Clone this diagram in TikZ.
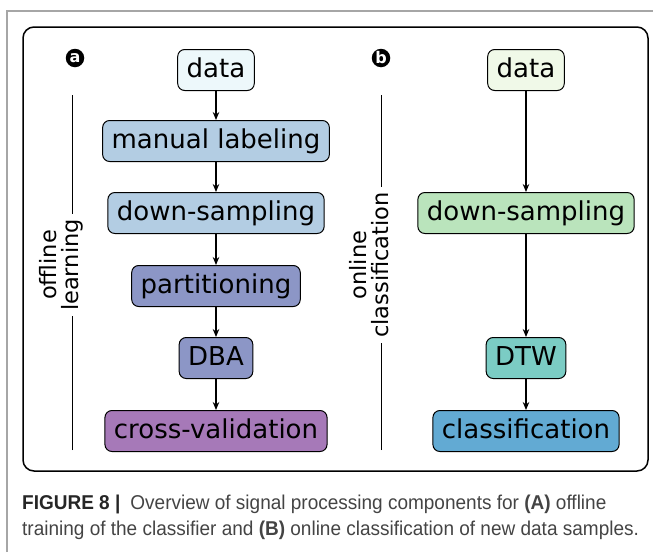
\documentclass[tikz,border=0pt]{standalone}
\usepackage{fontspec}
\setmainfont{DejaVu Sans}
\newfontfamily\capfont[FakeStretch=0.95]{Liberation Sans}
\usetikzlibrary{arrows.meta}
\definecolor{cA0}{HTML}{EDF8FB}
\definecolor{cA1}{HTML}{B3CDE3}
\definecolor{cA2}{HTML}{8C96C6}
\definecolor{cA3}{HTML}{A679B8}
\definecolor{cB0}{HTML}{F0F9E8}
\definecolor{cB1}{HTML}{BAE4BC}
\definecolor{cB2}{HTML}{7BCCC4}
\definecolor{cB3}{HTML}{62AAD3}
\definecolor{capgray}{HTML}{444444}
\begin{document}
\begin{tikzpicture}[x=1pt,y=1pt,
  box/.style={draw=black, line width=1pt, rounded corners=7pt, minimum height=41pt,
    inner xsep=9pt, font=\fontsize{26}{28}\selectfont, text height=19.5pt, text depth=5.5pt},
  arr/.style={-{Stealth[length=8pt,width=6.5pt]}, line width=1.3pt},
  side/.style={rotate=90, align=center, inner sep=5pt, font=\fontsize{22.5}{22}\selectfont},
  badge/.style={circle, fill=black, text=white, inner sep=0pt, minimum size=18.5pt,
    font=\fontsize{16}{16}\selectfont\bfseries},
  vline/.style={line width=1pt},
  captext/.style={anchor=base west, inner sep=0pt, text=capgray, font=\capfont\fontsize{20}{22}\selectfont}]
\useasboundingbox (0,0) rectangle (653,-552);
% outer frame
\draw[line width=1.2pt, gray!70] (7,-552) -- (7,-11) -- (653,-11);
% inner rounded frame
\draw[line width=1.5pt, rounded corners=11pt] (23,-27) rectangle (648,-471);
% left column
\node[box, fill=cA0] (ad) at (216,-70) {data};
\node[box, fill=cA1] (am) at (216,-141) {manual labeling};
\node[box, fill=cA1] (as) at (216,-213) {down-sampling};
\node[box, fill=cA2] (ap) at (216,-286) {partitioning};
\node[box, fill=cA2] (ab) at (216,-358) {DBA};
\node[box, fill=cA3] (ac) at (216,-431) {cross-validation};
\draw[arr] (ad) -- (am);
\draw[arr] (am) -- (as);
\draw[arr] (as) -- (ap);
\draw[arr] (ap) -- (ab);
\draw[arr] (ab) -- (ac);
% right column
\node[box, fill=cB0] (bd) at (526,-70) {data};
\node[box, fill=cB1] (bs) at (526,-213) {down-sampling};
\node[box, fill=cB2] (bt) at (526,-358) {DTW};
\node[box, fill=cB3] (bc) at (526,-431) {classification};
\draw[arr] (bd) -- (bs);
\draw[arr] (bs) -- (bt);
\draw[arr] (bt) -- (bc);
% side labels
\node[badge] (ba) at (75,-58) {a};
\node[badge] (bb) at (381,-58) {b};
\coordinate (la1) at (72,-95);
\coordinate (la2) at (72,-450);
\coordinate (lb1) at (381,-95);
\coordinate (lb2) at (381,-450);
\node[side] (ta) at (61.5,-265) {offline\\learning};
\node[side] (tb) at (369.5,-265) {online\\classification};
\draw[vline] (la1) -- (la1 |- ta.east);
\draw[vline] (la2) -- (la2 |- ta.west);
\draw[vline] (lb1) -- (lb1 |- tb.east);
\draw[vline] (lb2) -- (lb2 |- tb.west);
% caption
\node[captext] (c1) at (22,-509) {\textbf{\color{black!85}FIGURE 8 \textbar}\enspace Overview of signal processing components for \textbf{(A)} offline};
\node[captext] (c2) at (22,-535) {training of the classifier and \textbf{(B)} online classification of new data samples.};
\end{tikzpicture}
\end{document}
